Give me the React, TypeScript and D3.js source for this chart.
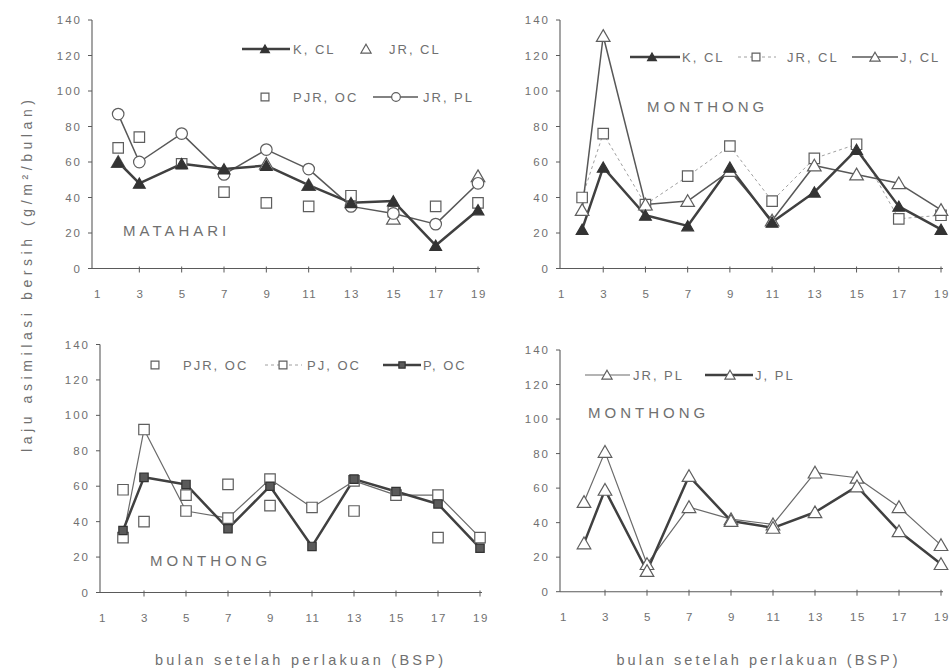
import React from "react";
import * as d3 from "d3";

// ---------- data ----------
const months = [2, 3, 5, 7, 9, 11, 13, 15, 17, 19];
const xTickValues = [1, 3, 5, 7, 9, 11, 13, 15, 17, 19];
const yTickValues = [0, 20, 40, 60, 80, 100, 120, 140];

// Panel 1 : MATAHARI
const matahariKCL = [60, 48, 59, 56, 58, 47, 37, 38, 13, 33];
const matahariJRCL = [60, null, null, null, 59, 47, null, 28, null, 52];
const matahariPJROC = [68, 74, 59, 43, 37, 35, 41, 32, 35, 37];
const matahariJRPL = [87, 60, 76, 53, 67, 56, 35, 31, 25, 48];

// Panel 2 : MONTHONG (CL)
const monthongKCL = [22, 57, 30, 24, 57, 26, 43, 67, 35, 22];
const monthongJRCL = [40, 76, 36, 52, 69, 38, 62, 70, 28, 30];
const monthongJCL = [33, 131, 36, 38, 55, 27, 58, 53, 48, 33];

// Panel 3 : MONTHONG (OC)
const monthongPJROC = [58, 40, 55, 61, 49, null, 46, null, 31, null];
const monthongPJOC = [31, 92, 46, 42, 64, 48, 63, 55, 55, 31];
const monthongPOC = [35, 65, 61, 36, 60, 26, 64, 57, 50, 25];

// Panel 4 : MONTHONG (PL)
const monthongJRPL = [52, 81, 16, 49, 42, 39, 69, 66, 49, 27];
const monthongJPL = [28, 59, 12, 67, 41, 37, 46, 61, 35, 16];

const yTitle = "laju asimilasi bersih (g/m\u00B2/bulan)";
const xTitle = "bulan setelah perlakuan  (BSP)";

// ---------- styles ----------
const FONT = "'Liberation Sans', Arial, sans-serif";
const TEXT = "#707070";
const AXIS = "#5a5a5a";
const DARK = "#404040";
const MID = "#585858";
const LIGHT = "#a0a0a0";

type MarkerKind = "triFill" | "tri" | "square" | "squareFill" | "circle";
type LineKind = "thick" | "thin" | "medium" | "dashed" | "none";

interface Series {
  values: (number | null)[];
  marker: MarkerKind;
  line: LineKind;
}
interface LegendItem {
  label: string;
  marker: MarkerKind;
  line: LineKind;
  x0?: number;
  x1?: number;
  mx: number;
  tx: number;
  y: number;
}
interface Panel {
  axisX: number;
  x1: number;
  x19: number;
  y0: number;
  y140: number;
  series: Series[];
  legend: LegendItem[];
  name: string;
  nameX: number;
  nameY: number;
}

const panels: Panel[] = [
  {
    axisX: 92, x1: 97, x19: 478, y0: 268.5, y140: 20,
    series: [
      { values: matahariPJROC, marker: "square", line: "none" },
      { values: matahariJRCL, marker: "tri", line: "none" },
      { values: matahariJRPL, marker: "circle", line: "medium" },
      { values: matahariKCL, marker: "triFill", line: "thick" },
    ],
    legend: [
      { label: "K, CL", marker: "triFill", line: "thick", x0: 242, x1: 290, mx: 265, tx: 293, y: 49 },
      { label: "JR, CL", marker: "tri", line: "none", mx: 366, tx: 389, y: 49 },
      { label: "PJR, OC", marker: "square", line: "none", mx: 265, tx: 293, y: 97 },
      { label: "JR, PL", marker: "circle", line: "medium", x0: 373, x1: 418, mx: 396, tx: 423, y: 97 },
    ],
    name: "MATAHARI", nameX: 123, nameY: 230,
  },
  {
    axisX: 560, x1: 561, x19: 941, y0: 268.5, y140: 20,
    series: [
      { values: monthongJRCL, marker: "square", line: "dashed" },
      { values: monthongJCL, marker: "tri", line: "medium" },
      { values: monthongKCL, marker: "triFill", line: "thick" },
    ],
    legend: [
      { label: "K, CL", marker: "triFill", line: "thick", x0: 630, x1: 680, mx: 652, tx: 682, y: 57 },
      { label: "JR, CL", marker: "square", line: "dashed", x0: 738, x1: 776, mx: 756, tx: 787, y: 57 },
      { label: "J, CL", marker: "tri", line: "medium", x0: 852, x1: 898, mx: 875, tx: 900, y: 57 },
    ],
    name: "MONTHONG", nameX: 647, nameY: 106,
  },
  {
    axisX: 100, x1: 102, x19: 480, y0: 592.5, y140: 344.5,
    series: [
      { values: monthongPJROC, marker: "square", line: "none" },
      { values: monthongPJOC, marker: "square", line: "thin" },
      { values: monthongPOC, marker: "squareFill", line: "thick" },
    ],
    legend: [
      { label: "PJR, OC", marker: "square", line: "none", mx: 155, tx: 183, y: 365 },
      { label: "PJ, OC", marker: "square", line: "dashed", x0: 265, x1: 302, mx: 283, tx: 307, y: 365 },
      { label: "P, OC", marker: "squareFill", line: "thick", x0: 383, x1: 421, mx: 402, tx: 423, y: 365 },
    ],
    name: "MONTHONG", nameX: 150, nameY: 560,
  },
  {
    axisX: 560, x1: 563, x19: 941, y0: 591.7, y140: 350,
    series: [
      { values: monthongJRPL, marker: "tri", line: "thin" },
      { values: monthongJPL, marker: "tri", line: "thick" },
    ],
    legend: [
      { label: "JR, PL", marker: "tri", line: "thin", x0: 585, x1: 630, mx: 607, tx: 633, y: 375 },
      { label: "J, PL", marker: "tri", line: "thick", x0: 705, x1: 753, mx: 730, tx: 755, y: 375 },
    ],
    name: "MONTHONG", nameX: 588, nameY: 412,
  },
];

function lineStyle(kind: LineKind) {
  switch (kind) {
    case "thick":
      return { stroke: DARK, strokeWidth: 2.5 };
    case "medium":
      return { stroke: MID, strokeWidth: 1.5 };
    case "thin":
      return { stroke: "#6a6a6a", strokeWidth: 1.2 };
    case "dashed":
      return { stroke: LIGHT, strokeWidth: 1, strokeDasharray: "3,3" };
    default:
      return null;
  }
}

function symbolPath(kind: MarkerKind, scale = 1) {
  if (kind === "triFill" || kind === "tri") {
    return d3.symbol(d3.symbolTriangle, (kind === "triFill" ? 60 : 80) * scale * scale)()!;
  }
  if (kind === "square" || kind === "squareFill") {
    return d3.symbol(d3.symbolSquare, (kind === "squareFill" ? 70 : 110) * scale * scale)()!;
  }
  return d3.symbol(d3.symbolCircle, 105 * scale * scale)()!;
}

function Marker({ kind, x, y, scale = 1 }: { kind: MarkerKind; x: number; y: number; scale?: number }) {
  const filled = kind === "triFill" || kind === "squareFill";
  const dy = kind === "triFill" || kind === "tri" ? 1.5 * scale : 0;
  return (
    <path
      d={symbolPath(kind, scale)}
      transform={`translate(${x},${y + dy})`}
      fill={filled ? (kind === "squareFill" ? "#5a5a5a" : "#333") : "#fff"}
      stroke={filled ? "#333" : "#5e5e5e"}
      strokeWidth={1.2}
    />
  );
}

function PanelView({ p }: { p: Panel }) {
  const x = d3.scaleLinear().domain([1, 19]).range([p.x1, p.x19]);
  const y = d3.scaleLinear().domain([0, 140]).range([p.y0, p.y140]);
  const line = d3
    .line<number | null>()
    .defined((d) => d != null)
    .x((_, i) => x(months[i]))
    .y((d) => y(d as number));

  return (
    <g>
      <line x1={p.axisX} x2={p.axisX} y1={y(0)} y2={y(140)} stroke={AXIS} strokeWidth={1.1} />
      <line x1={p.axisX} x2={x(19) + 2} y1={y(0)} y2={y(0)} stroke={AXIS} strokeWidth={1.1} />
      {yTickValues.map((v) => (
        <g key={"yt" + v}>
          <line x1={p.axisX - 4} x2={p.axisX} y1={y(v)} y2={y(v)} stroke={AXIS} strokeWidth={1} />
          <text
            x={p.axisX - 10}
            y={y(v)}
            textAnchor="end"
            dominantBaseline="central"
            fontSize={11.5}
            letterSpacing={2}
            fill={TEXT}
            fontFamily={FONT}
          >
            {v}
          </text>
        </g>
      ))}
      {xTickValues.map((v) => (
        <g key={"xt" + v}>
          {v > 1 && <line x1={x(v)} x2={x(v)} y1={y(0) - 2} y2={y(0) + 4} stroke={AXIS} strokeWidth={1} />}
          <text
            x={x(v) + 1}
            y={y(0) + 25}
            textAnchor="middle"
            dominantBaseline="central"
            fontSize={11.5}
            letterSpacing={1.5}
            fill={TEXT}
            fontFamily={FONT}
          >
            {v}
          </text>
        </g>
      ))}

      <text
        x={p.nameX}
        y={p.nameY}
        dominantBaseline="central"
        fontSize={15}
        letterSpacing={4}
        fill={TEXT}
        fontFamily={FONT}
      >
        {p.name}
      </text>

      {p.series.map((s, i) => {
        const st = lineStyle(s.line);
        if (!st) return null;
        return <path key={"l" + i} d={line(s.values) || ""} fill="none" {...st} strokeLinejoin="round" />;
      })}
      {p.series.map((s, i) => (
        <g key={"m" + i}>
          {s.values.map((v, j) =>
            v == null ? null : <Marker key={j} kind={s.marker} x={x(months[j])} y={y(v)} />
          )}
        </g>
      ))}

      {p.legend.map((l, i) => {
        const st = lineStyle(l.line);
        return (
          <g key={"lg" + i}>
            {st && l.x0 != null && <line x1={l.x0} x2={l.x1} y1={l.y} y2={l.y} {...st} />}
            <Marker kind={l.marker} x={l.mx} y={l.y} scale={0.75} />
            <text
              x={l.tx}
              y={l.y}
              dominantBaseline="central"
              fontSize={13}
              letterSpacing={2}
              fill={TEXT}
              fontFamily={FONT}
            >
              {l.label}
            </text>
          </g>
        );
      })}
    </g>
  );
}

export default function App() {
  return (
    <svg
      width={951}
      height={668}
      viewBox="0 0 951 668"
      style={{ position: "absolute", left: 0, top: 0, background: "#fff" }}
    >
      <rect x={0} y={0} width={951} height={668} fill="#fff" />
      {panels.map((p, i) => (
        <PanelView key={i} p={p} />
      ))}
      <text
        transform="translate(27,276) rotate(-90)"
        textAnchor="middle"
        dominantBaseline="central"
        fontSize={14}
        textLength={352}
        lengthAdjust="spacing"
        fill={TEXT}
        fontFamily={FONT}
      >
        {yTitle}
      </text>
      <text
        x={299}
        y={660}
        textAnchor="middle"
        dominantBaseline="central"
        fontSize={14.5}
        textLength={288}
        lengthAdjust="spacing"
        fill={TEXT}
        fontFamily={FONT}
      >
        {xTitle}
      </text>
      <text
        x={757}
        y={660}
        textAnchor="middle"
        dominantBaseline="central"
        fontSize={14.5}
        textLength={281}
        lengthAdjust="spacing"
        fill={TEXT}
        fontFamily={FONT}
      >
        {xTitle}
      </text>
    </svg>
  );
}
